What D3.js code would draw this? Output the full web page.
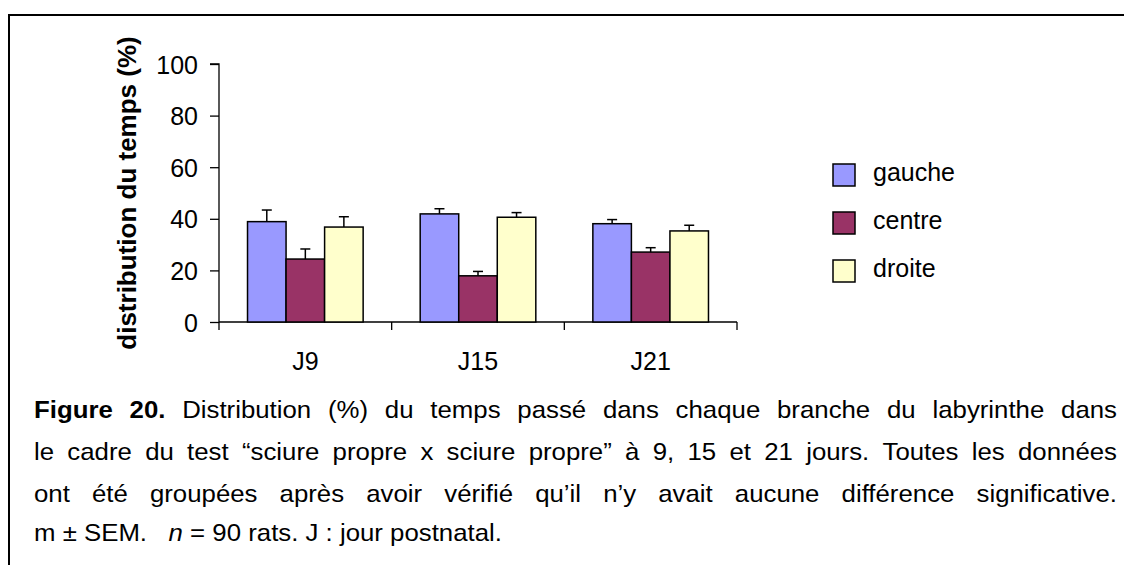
<!DOCTYPE html>
<html><head><meta charset="utf-8">
<script src="https://cdn.jsdelivr.net/npm/d3@7"></script>
<style>
html,body{margin:0;padding:0;background:#fff;}
svg{display:block;font-family:"Liberation Sans",Arial,sans-serif;}
</style></head>
<body><svg id="c" width="1124" height="565"></svg>
<script>
const categories = ["J9", "J15", "J21"];
const seriesNames = ["gauche", "centre", "droite"];
const gauche = [38.9, 41.9, 38.1];
const gaucheSem = [4.5, 2.0, 1.6];
const centre = [24.4, 17.9, 27.1];
const centreSem = [3.9, 1.7, 1.7];
const droite = [36.8, 40.6, 35.3];
const droiteSem = [4.0, 1.8, 2.2];
const yTicks = [0, 20, 40, 60, 80, 100];
const colors = ["#9999FF", "#993366", "#FFFFCC"];
const yTitle = "distribution du temps (%)";
const captionLines = [
  [{t:"Figure 20.", b:true}, {t:"Distribution (%) du temps passé dans chaque branche du labyrinthe dans"}],
  [{t:"le cadre du test “sciure propre x sciure propre” à 9, 15 et 21 jours. Toutes les données"}],
  [{t:"ont été groupées après avoir vérifié qu’il n’y avait aucune différence significative."}],
  [{t:"m ± SEM.   "}, {t:"n", i:true}, {t:"= 90 rats. J : jour postnatal."}]
];

const values = [gauche, centre, droite];
const sems = [gaucheSem, centreSem, droiteSem];
const svg = d3.select("#c");

// frame
svg.append("path").attr("d", "M9,565V15H1124").attr("fill","none").attr("stroke","#000").attr("stroke-width",2);

const x0 = d3.scaleBand().domain(categories).range([219, 737]).paddingInner(0).paddingOuter(0);
const x1 = d3.scaleBand().domain(seriesNames).range([0, x0.bandwidth()]).paddingInner(0).paddingOuter(0.74);
const y = d3.scaleLinear().domain([0, 100]).range([322, 64]);

// y axis
const yAxis = svg.append("g").attr("transform", "translate(219,0)")
  .call(d3.axisLeft(y).tickValues(yTicks).tickSize(9).tickPadding(12));
yAxis.select(".domain").attr("d", `M-9,${y(100)}H0V${y(0)+8}`).attr("stroke","#000").attr("stroke-width",1.3);
yAxis.selectAll(".tick line").attr("stroke","#000").attr("stroke-width",1.3);
yAxis.selectAll(".tick text").attr("font-size",25).attr("fill","#000").attr("font-family","Liberation Sans, Arial, sans-serif").attr("dy","0.36em");

// x axis
const xg = svg.append("g");
xg.append("line").attr("x1", x0.range()[0]).attr("x2", x0.range()[1]).attr("y1", y(0)).attr("y2", y(0)).attr("stroke","#000").attr("stroke-width",1.3);
categories.forEach(c => {
  const xe = x0(c) + x0.bandwidth();
  xg.append("line").attr("x1", xe).attr("x2", xe).attr("y1", y(0)).attr("y2", y(0)+8).attr("stroke","#000").attr("stroke-width",1.3);
  xg.append("text").attr("x", x0(c) + x0.bandwidth()/2).attr("y", 370).attr("text-anchor","middle").attr("font-size",25).attr("fill","#000").text(c);
});

// bars
seriesNames.forEach((s, si) => {
  const g = svg.append("g");
  categories.forEach((c, ci) => {
    const v = values[si][ci], e = sems[si][ci];
    const bx = x0(c) + x1(s), bw = x1.bandwidth();
    g.append("rect").attr("x", bx).attr("y", y(v)).attr("width", bw).attr("height", y(0) - y(v))
      .attr("fill", colors[si]).attr("stroke", "#000").attr("stroke-width", 1.5);
    const cx = bx + bw/2;
    g.append("line").attr("x1", cx).attr("x2", cx).attr("y1", y(v)).attr("y2", y(v+e)).attr("stroke","#000").attr("stroke-width",1.5);
    g.append("line").attr("x1", cx-5).attr("x2", cx+5).attr("y1", y(v+e)).attr("y2", y(v+e)).attr("stroke","#000").attr("stroke-width",1.5);
  });
});

// y title
svg.append("text").attr("transform", `translate(136,${(y(0)+y(100))/2})rotate(-90)`)
  .attr("text-anchor","middle").attr("font-weight","bold").attr("font-size",26).attr("fill","#000").text(yTitle);

// legend
const legendY = [175, 223, 271];
seriesNames.forEach((s, si) => {
  svg.append("rect").attr("x", 833).attr("y", legendY[si] - 11).attr("width", 22).attr("height", 22)
    .attr("fill", colors[si]).attr("stroke","#000").attr("stroke-width",1.5);
  svg.append("text").attr("x", 873).attr("y", legendY[si] + 6).attr("font-size",25).attr("fill","#000").text(s);
});

// caption (justified lines, slightly widened glyphs)
const capX = 34, capRight = 1117, capFont = 24, sx = 1.075;
const baselines = [418, 460, 502, 541];
const capG = svg.append("g").attr("transform", `translate(${capX},0) scale(${sx},1)`);
const avail = (capRight - capX) / sx;
captionLines.forEach((segs, li) => {
  const words = [];
  segs.forEach(seg => {
    seg.t.split(" ").forEach(p => {
      if (p === "") { if (words.length) words[words.length-1].extra += 1; return; }
      words.push({t:p, b:seg.b, i:seg.i, extra:0});
    });
  });
  const tmp = capG.append("text").attr("font-size", capFont);
  const widths = words.map(w => {
    tmp.text(w.t).attr("font-weight", w.b ? "bold" : "normal").attr("font-style", w.i ? "italic" : "normal");
    return tmp.node().getComputedTextLength();
  });
  tmp.remove();
  const spaceW = capFont * 0.278;
  const justify = li < captionLines.length - 1;
  const totalW = d3.sum(widths);
  const gaps = words.length - 1;
  let gapW = spaceW;
  if (justify && gaps > 0) gapW = (avail - totalW) / gaps;
  let cx = 0;
  const t = capG.append("text").attr("y", baselines[li]).attr("font-size", capFont).attr("fill","#000");
  words.forEach((w, wi) => {
    t.append("tspan").attr("x", cx).attr("font-weight", w.b ? "bold" : null).attr("font-style", w.i ? "italic" : null).text(w.t);
    cx += widths[wi] + (justify ? gapW : spaceW * Math.max(1, w.extra));
  });
});
</script>
</body></html>
